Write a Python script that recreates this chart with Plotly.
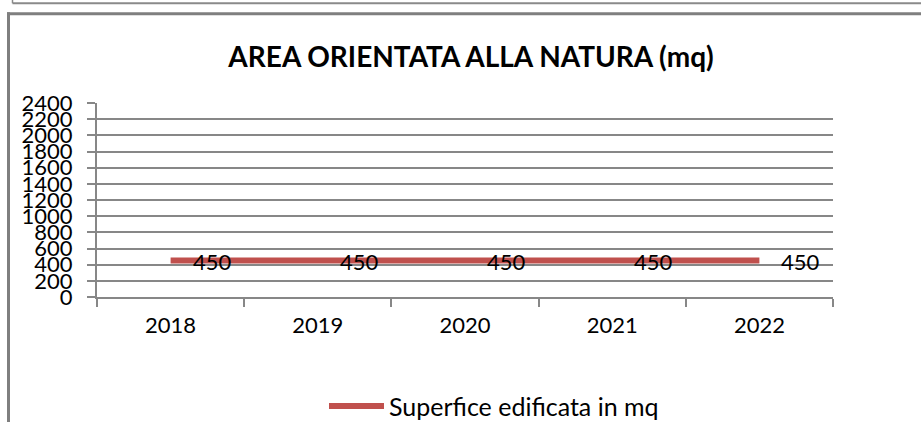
import plotly.graph_objects as go

categories = ["2018", "2019", "2020", "2021", "2022"]
values = [450, 450, 450, 450, 450]
series_name = "Superfice edificata in mq"
title_text = "AREA ORIENTATA ALLA NATURA (mq)"
y_ticks = list(range(0, 2401, 200))

W, H = 921, 422
L, R = 97, 833
T, B = 102.7, 296.7

def px_x(x):
    return (x - L) / (R - L)

def px_y(y):
    return (B - y) / (B - T)

FONT = "Lato, 'Open Sans', sans-serif"
GRAY = "#878787"
RED = "#C0504D"

fig = go.Figure()
fig.add_trace(go.Scatter(
    x=categories, y=values, mode="lines", name=series_name,
    line=dict(color=RED, width=6),
    showlegend=True,
))

# data labels (category axis: position by category index)
for i, v in enumerate(values):
    fig.add_annotation(x=i, y=v, xref="x", yref="y", text=str(v),
                       showarrow=False, xanchor="left", yanchor="middle",
                       xshift=20, yshift=-1, font=dict(size=22, color="#000", family=FONT))

shapes = [
    # top panel remnants
    dict(type="line", xref="paper", yref="paper", x0=px_x(12.5), x1=px_x(925), y0=px_y(3), y1=px_y(3),
         line=dict(color="#8a8a8a", width=2)),
    dict(type="line", xref="paper", yref="paper", x0=px_x(12.5), x1=px_x(12.5), y0=px_y(-2), y1=px_y(3),
         line=dict(color="#8a8a8a", width=1.5)),
    # main box
    dict(type="line", xref="paper", yref="paper", x0=px_x(7), x1=px_x(925), y0=px_y(13.5), y1=px_y(13.5),
         line=dict(color="#7f7f7f", width=3)),
    dict(type="line", xref="paper", yref="paper", x0=px_x(8.5), x1=px_x(8.5), y0=px_y(12), y1=px_y(430),
         line=dict(color="#7f7f7f", width=3)),
]

fig.update_layout(
    width=W, height=H,
    margin=dict(l=L, r=W - R, t=T, b=H - B, autoexpand=False),
    paper_bgcolor="white", plot_bgcolor="white",
    font=dict(family=FONT, size=22, color="#000"),
    title=dict(text="<b>" + title_text + "</b>", x=471 / W, xref="container", xanchor="center",
               y=1 - 57 / H, yref="container", yanchor="middle",
               font=dict(family=FONT, size=28, color="#000")),
    xaxis=dict(type="category", range=[-0.5, 4.5], tickson="boundaries",
               showgrid=False, showline=True, linecolor=GRAY, linewidth=2,
               ticks="outside", ticklen=8, tickwidth=2, tickcolor=GRAY,
               ticklabelstandoff=8,
               tickfont=dict(size=22, family=FONT), fixedrange=True),
    yaxis=dict(range=[0, 2400], tickvals=y_ticks, ticktext=[str(v) for v in y_ticks],
               showgrid=True, gridcolor=GRAY, gridwidth=2,
               showline=True, linecolor=GRAY, linewidth=2, zeroline=False,
               ticks="outside", ticklen=8, tickwidth=2, tickcolor=GRAY,
               ticklabelstandoff=10,
               tickfont=dict(size=22, family=FONT), fixedrange=True),
    legend=dict(orientation="h", x=px_x(324), xanchor="left", y=px_y(406), yanchor="middle",
                font=dict(size=25, family=FONT), itemwidth=55, bgcolor="rgba(0,0,0,0)"),
    shapes=shapes,
    showlegend=True,
)

fig.write_html("out.html", config={"displayModeBar": False},
               post_script="document.body.style.margin='0';document.body.style.padding='0';")
